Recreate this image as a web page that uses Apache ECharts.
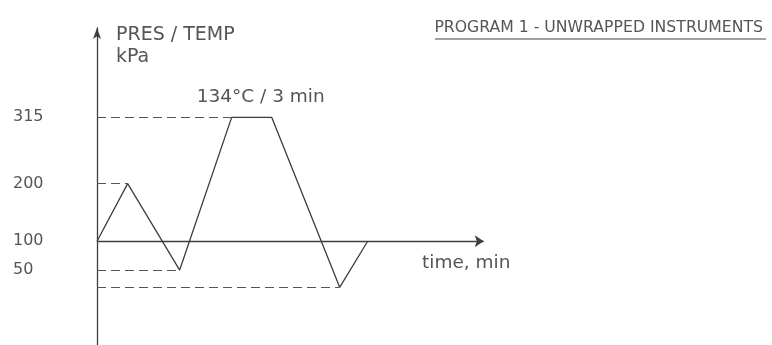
<!DOCTYPE html>
<html>
<head>
<meta charset="utf-8">
<title>Program 1 - unwrapped instruments</title>
<script src="https://cdn.jsdelivr.net/npm/echarts@6/dist/echarts.min.js"></script>
<style>
    html, body { margin: 0; padding: 0; background: #fff; }
    #chart { width: 772px; height: 345px; }
</style>
</head>
<body>
<div id="chart"></div>
<script>
// 程序1 压力/温度曲线（示意图）

const times = [0, 2.3, 6.2, 10.1, 13.1, 18.2, 20.3];
const pressures = [100, 200, 50, 315, 315, 20, 100];
const tickValues = [50, 100, 200, 315];
const guidePoints = [1, 2, 3, 5]; // 需要画虚线到纵轴的拐点
const baseline = 100;
const timeAxisEnd = 29;
const holdLabel = '134°C / 3 min';
const holdIdx = [3, 4];

const font = 'DejaVu Sans';
const textColor = '#555';
const lineColor = '#3d3d3d';

const chart = echarts.init(document.getElementById('chart'));

const profile = times.map((t, i) => [t, pressures[i]]);

const guides = guidePoints.map((i) => [
    { coord: [0, pressures[i]] },
    { coord: [times[i], pressures[i]] }
]);

const holdMid = (times[holdIdx[0]] + times[holdIdx[1]]) / 2;

const option = {
    backgroundColor: '#fff',
    animation: false,
    title: {
        text: 'PROGRAM 1 - UNWRAPPED INSTRUMENTS',
        right: 4,
        top: 15,
        textStyle: {
            fontFamily: font,
            fontSize: 15.7,
            fontWeight: 'normal',
            color: textColor
        }
    },
    graphic: [
        {
            type: 'line',
            shape: { x1: 435, y1: 39, x2: 766, y2: 39 },
            style: { stroke: '#444', lineWidth: 1.2 }
        },
        {
            type: 'text',
            x: 422,
            y: 263,
            style: {
                text: 'time, min',
                fontFamily: font,
                fontSize: 18.5,
                fill: textColor,
                verticalAlign: 'middle'
            }
        }
    ],
    grid: {
        left: 97,
        right: 275,
        top: 28,
        bottom: 0,
        containLabel: false
    },
    xAxis: {
        type: 'value',
        min: 0,
        max: 30,
        show: false
    },
    yAxis: {
        type: 'value',
        min: -80,
        max: 470,
        name: 'PRES / TEMP\nkPa',
        nameLocation: 'end',
        nameGap: 4,
        nameTextStyle: {
            fontFamily: font,
            fontSize: 19,
            color: textColor,
            align: 'left',
            verticalAlign: 'top',
            lineHeight: 22,
            padding: [0, 0, 0, 19]
        },
        axisLine: {
            show: true,
            symbol: ['none', 'arrow'],
            symbolSize: [6, 11],
            lineStyle: { color: lineColor, width: 1.3 }
        },
        axisTick: { show: false },
        splitLine: { show: false },
        axisLabel: {
            customValues: tickValues,
            align: 'left',
            margin: 84,
            fontFamily: font,
            fontSize: 16,
            color: textColor
        }
    },
    series: [
        {
            type: 'line',
            data: profile,
            symbol: 'none',
            lineStyle: { color: lineColor, width: 1.3 },
            markLine: {
                silent: true,
                symbol: ['none', 'arrow'],
                symbolSize: 9,
                label: { show: false },
                lineStyle: { color: lineColor, width: 1.3, type: 'solid' },
                data: [
                    [{ coord: [0, baseline] }, { coord: [timeAxisEnd, baseline] }]
                ]
            },
            markPoint: {
                silent: true,
                symbolSize: 0,
                label: {
                    show: true,
                    position: 'inside',
                    offset: [9, -20],
                    formatter: holdLabel,
                    fontFamily: font,
                    fontSize: 18.5,
                    color: textColor
                },
                data: [{ coord: [holdMid, pressures[holdIdx[0]]] }]
            }
        },
        {
            type: 'line',
            data: [],
            markLine: {
                silent: true,
                symbol: 'none',
                label: { show: false },
                lineStyle: { color: '#555', width: 1.2, type: [9, 5] },
                data: guides
            }
        }
    ]
};

chart.setOption(option);
</script>
</body>
</html>
